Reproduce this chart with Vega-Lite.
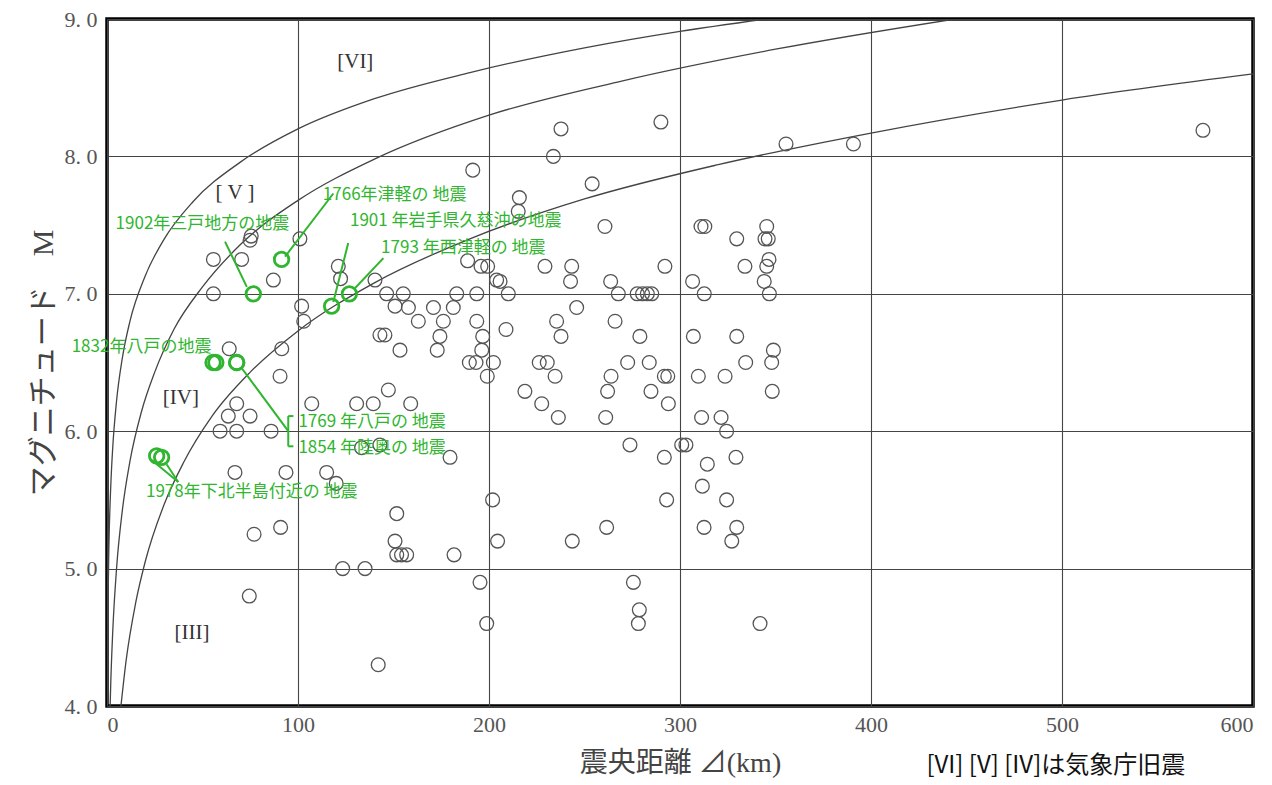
{
  "$schema": "https://vega.github.io/schema/vega-lite/v6.json",
  "width": 1146,
  "height": 687,
  "autosize": {"type": "none"},
  "padding": {"left": 107, "top": 19, "right": 19, "bottom": 79},
  "background": "white",
  "config": {
    "view": {"stroke": "#000", "strokeWidth": 3.5},
    "axis": {
      "grid": true, "gridColor": "#444", "gridWidth": 1.1, "gridOpacity": 1,
      "domain": false, "ticks": false,
      "labelFont": "Liberation Serif", "labelColor": "#555", "labelFontSize": 22,
      "titleFont": "Liberation Serif, Noto Sans CJK JP", "titleFontWeight": "normal",
      "titleColor": "#444", "titleFontSize": 28
    }
  },
  "datasets": {
    "curves": [
      {"c": "A", "d": 0.17, "m": 3.99}, {"c": "A", "d": 0.3, "m": 4.36}, {"c": "A", "d": 0.5, "m": 4.70},
      {"c": "A", "d": 1, "m": 5.16}, {"c": "A", "d": 2, "m": 5.61}, {"c": "A", "d": 3, "m": 5.88},
      {"c": "A", "d": 5, "m": 6.22}, {"c": "A", "d": 8, "m": 6.53}, {"c": "A", "d": 12, "m": 6.80},
      {"c": "A", "d": 20, "m": 7.13}, {"c": "A", "d": 30, "m": 7.40}, {"c": "A", "d": 45, "m": 7.67},
      {"c": "A", "d": 70, "m": 7.96}, {"c": "A", "d": 100, "m": 8.20}, {"c": "A", "d": 140, "m": 8.42},
      {"c": "A", "d": 190, "m": 8.61}, {"c": "A", "d": 250, "m": 8.79}, {"c": "A", "d": 300, "m": 8.91},
      {"c": "A", "d": 345, "m": 9.0},
      {"c": "B", "d": 1.64, "m": 4.0}, {"c": "B", "d": 2, "m": 4.18}, {"c": "B", "d": 3, "m": 4.54},
      {"c": "B", "d": 5, "m": 5.0}, {"c": "B", "d": 8, "m": 5.42}, {"c": "B", "d": 12, "m": 5.78},
      {"c": "B", "d": 18, "m": 6.14}, {"c": "B", "d": 25, "m": 6.43}, {"c": "B", "d": 35, "m": 6.74},
      {"c": "B", "d": 50, "m": 7.05}, {"c": "B", "d": 70, "m": 7.36}, {"c": "B", "d": 100, "m": 7.68},
      {"c": "B", "d": 140, "m": 7.98}, {"c": "B", "d": 200, "m": 8.30}, {"c": "B", "d": 270, "m": 8.55},
      {"c": "B", "d": 350, "m": 8.78}, {"c": "B", "d": 444, "m": 9.0},
      {"c": "C", "d": 7.3, "m": 4.0}, {"c": "C", "d": 10, "m": 4.33}, {"c": "C", "d": 15, "m": 4.75},
      {"c": "C", "d": 20, "m": 5.05}, {"c": "C", "d": 30, "m": 5.47}, {"c": "C", "d": 40, "m": 5.77},
      {"c": "C", "d": 55, "m": 6.11}, {"c": "C", "d": 75, "m": 6.43}, {"c": "C", "d": 100, "m": 6.73},
      {"c": "C", "d": 140, "m": 7.08}, {"c": "C", "d": 190, "m": 7.40}, {"c": "C", "d": 250, "m": 7.69},
      {"c": "C", "d": 320, "m": 7.94}, {"c": "C", "d": 400, "m": 8.17}, {"c": "C", "d": 500, "m": 8.41},
      {"c": "C", "d": 600, "m": 8.60}
    ],
    "quakes": [
      {"d": 237.7, "m": 8.20}, {"d": 290, "m": 8.25}, {"d": 233.7, "m": 8.00}, {"d": 355.5, "m": 8.09},
      {"d": 390.8, "m": 8.09}, {"d": 573.8, "m": 8.19}, {"d": 191.5, "m": 7.90}, {"d": 254, "m": 7.80},
      {"d": 215.9, "m": 7.70}, {"d": 215.3, "m": 7.60}, {"d": 260.7, "m": 7.49}, {"d": 311, "m": 7.49},
      {"d": 313, "m": 7.49}, {"d": 345.4, "m": 7.49}, {"d": 329.7, "m": 7.40}, {"d": 344.5, "m": 7.40},
      {"d": 346.2, "m": 7.40}, {"d": 346.6, "m": 7.25}, {"d": 345.4, "m": 7.20}, {"d": 334, "m": 7.20},
      {"d": 344.1, "m": 7.09}, {"d": 346.8, "m": 7.00}, {"d": 312.7, "m": 7.00}, {"d": 306.6, "m": 7.09},
      {"d": 292.1, "m": 7.20}, {"d": 263.7, "m": 7.09}, {"d": 267.7, "m": 7.00}, {"d": 277.6, "m": 7.00},
      {"d": 280.4, "m": 7.00}, {"d": 282.9, "m": 7.00}, {"d": 285.2, "m": 7.00}, {"d": 243.3, "m": 7.20},
      {"d": 242.7, "m": 7.09}, {"d": 229.3, "m": 7.20}, {"d": 245.9, "m": 6.90}, {"d": 266, "m": 6.80},
      {"d": 235.4, "m": 6.80}, {"d": 237.7, "m": 6.69}, {"d": 279, "m": 6.69}, {"d": 307, "m": 6.69},
      {"d": 329.7, "m": 6.69}, {"d": 208.9, "m": 6.74}, {"d": 188.8, "m": 7.24}, {"d": 195.8, "m": 7.20},
      {"d": 199.3, "m": 7.20}, {"d": 204, "m": 7.10}, {"d": 205.8, "m": 7.09}, {"d": 210.1, "m": 7.00},
      {"d": 193.6, "m": 7.00}, {"d": 183.1, "m": 7.00}, {"d": 155.1, "m": 7.00}, {"d": 170.9, "m": 6.90},
      {"d": 181.3, "m": 6.90}, {"d": 157.8, "m": 6.90}, {"d": 163, "m": 6.80}, {"d": 176.1, "m": 6.80},
      {"d": 193.6, "m": 6.80}, {"d": 174.3, "m": 6.69}, {"d": 196.7, "m": 6.69}, {"d": 153.4, "m": 6.59},
      {"d": 172.9, "m": 6.59}, {"d": 196.2, "m": 6.59}, {"d": 189.7, "m": 6.50}, {"d": 193.2, "m": 6.50},
      {"d": 202.3, "m": 6.50}, {"d": 199.1, "m": 6.40}, {"d": 226.3, "m": 6.50}, {"d": 230.5, "m": 6.50},
      {"d": 234.6, "m": 6.40}, {"d": 218.8, "m": 6.29}, {"d": 227.6, "m": 6.20}, {"d": 236.3, "m": 6.10},
      {"d": 261.1, "m": 6.10}, {"d": 262.1, "m": 6.29}, {"d": 263.9, "m": 6.40}, {"d": 272.6, "m": 6.50},
      {"d": 283.9, "m": 6.50}, {"d": 284.8, "m": 6.29}, {"d": 291.8, "m": 6.40}, {"d": 293.6, "m": 6.40},
      {"d": 293.9, "m": 6.20}, {"d": 309.6, "m": 6.40}, {"d": 323.6, "m": 6.40}, {"d": 334.4, "m": 6.50},
      {"d": 348, "m": 6.50}, {"d": 348.9, "m": 6.59}, {"d": 348.3, "m": 6.29}, {"d": 311.3, "m": 6.10},
      {"d": 321.5, "m": 6.10}, {"d": 324.4, "m": 6.00}, {"d": 300.9, "m": 5.90}, {"d": 303.1, "m": 5.90},
      {"d": 273.8, "m": 5.90}, {"d": 291.8, "m": 5.81}, {"d": 314.3, "m": 5.76}, {"d": 329.3, "m": 5.81},
      {"d": 311.7, "m": 5.60}, {"d": 324.4, "m": 5.50}, {"d": 293, "m": 5.50}, {"d": 201.9, "m": 5.50},
      {"d": 179.6, "m": 5.81}, {"d": 159, "m": 6.20}, {"d": 151.7, "m": 5.40}, {"d": 204.5, "m": 5.20},
      {"d": 243.6, "m": 5.20}, {"d": 261.6, "m": 5.30}, {"d": 312.6, "m": 5.30}, {"d": 329.7, "m": 5.30},
      {"d": 327.1, "m": 5.20}, {"d": 150.8, "m": 5.20}, {"d": 151.7, "m": 5.10}, {"d": 154.2, "m": 5.10},
      {"d": 156.9, "m": 5.10}, {"d": 181.7, "m": 5.10}, {"d": 195.3, "m": 4.90}, {"d": 275.6, "m": 4.90},
      {"d": 278.7, "m": 4.70}, {"d": 278.2, "m": 4.60}, {"d": 198.8, "m": 4.60}, {"d": 341.9, "m": 4.60},
      {"d": 77, "m": 5.25}, {"d": 90.9, "m": 5.30}, {"d": 123.4, "m": 5.00}, {"d": 135.1, "m": 5.00},
      {"d": 74.5, "m": 4.80}, {"d": 142, "m": 4.30}, {"d": 74.9, "m": 7.39}, {"d": 75.5, "m": 7.42},
      {"d": 101, "m": 7.40}, {"d": 55.7, "m": 7.25}, {"d": 70.5, "m": 7.25}, {"d": 87.1, "m": 7.10},
      {"d": 55.7, "m": 7.00}, {"d": 101.9, "m": 6.91}, {"d": 103, "m": 6.80}, {"d": 121.1, "m": 7.20},
      {"d": 122.3, "m": 7.11}, {"d": 140.3, "m": 7.10}, {"d": 146.4, "m": 7.00}, {"d": 150.8, "m": 6.91},
      {"d": 64, "m": 6.60}, {"d": 91.5, "m": 6.60}, {"d": 90.6, "m": 6.40}, {"d": 67.9, "m": 6.20},
      {"d": 63.5, "m": 6.11}, {"d": 74.9, "m": 6.11}, {"d": 59.2, "m": 6.00}, {"d": 67.9, "m": 6.00},
      {"d": 85.9, "m": 6.00}, {"d": 107.2, "m": 6.20}, {"d": 130.7, "m": 6.20}, {"d": 139.4, "m": 6.20},
      {"d": 147.3, "m": 6.30}, {"d": 142.9, "m": 6.70}, {"d": 145.5, "m": 6.70}, {"d": 133.3, "m": 5.88},
      {"d": 142.9, "m": 5.90}, {"d": 67, "m": 5.70}, {"d": 93.7, "m": 5.70}, {"d": 115, "m": 5.70},
      {"d": 120, "m": 5.62}
    ],
    "named": [
      {"name": "1902", "d": 76.6, "m": 7.0}, {"name": "1766", "d": 91.4, "m": 7.25},
      {"name": "1901", "d": 117.6, "m": 6.91}, {"name": "1793", "d": 126.9, "m": 7.0},
      {"name": "1832", "d": 55.5, "m": 6.5}, {"name": "1832b", "d": 57, "m": 6.5},
      {"name": "1769", "d": 67.9, "m": 6.5}, {"name": "1854", "d": 67.9, "m": 6.5},
      {"name": "1978", "d": 26, "m": 5.82}, {"name": "1978b", "d": 28.6, "m": 5.81}
    ],
    "leaders": [
      {"d": 61.8, "m": 7.38, "d2": 73.2, "m2": 7.05},
      {"d": 118.5, "m": 7.73, "d2": 93.2, "m2": 7.27},
      {"d": 126.3, "m": 7.37, "d2": 118.5, "m2": 6.94},
      {"d": 144.7, "m": 7.26, "d2": 129.8, "m2": 7.04},
      {"d": 70.5, "m": 6.46, "d2": 94.9, "m2": 6.0},
      {"d": 94.9, "m": 6.11, "d2": 94.9, "m2": 5.89},
      {"d": 94.9, "m": 6.11, "d2": 97.6, "m2": 6.11},
      {"d": 94.9, "m": 5.89, "d2": 97.6, "m2": 5.89},
      {"d": 23.4, "m": 5.79, "d2": 37.3, "m2": 5.63},
      {"d": 31.2, "m": 5.76, "d2": 37.3, "m2": 5.63}
    ],
    "labels": [
      {"t": "1902年三戸地方の地震", "d": 4.5, "m": 7.51},
      {"t": "1766年津軽の 地震", "d": 113, "m": 7.72},
      {"t": "1901 年岩手県久慈沖の地震", "d": 127.2, "m": 7.53},
      {"t": "1793 年西津軽の 地震", "d": 143.5, "m": 7.33},
      {"t": "1832年八戸の地震", "d": -18.5, "m": 6.61},
      {"t": "1769 年八戸の 地震", "d": 100.2, "m": 6.07},
      {"t": "1854 年陸奥の 地震", "d": 100.2, "m": 5.875},
      {"t": "1978年下北半島付近の 地震", "d": 20.4, "m": 5.56}
    ],
    "regions": [
      {"t": "[VI]", "d": 130, "m": 8.69},
      {"t": "[ V ]", "d": 67, "m": 7.73},
      {"t": "[IV]", "d": 38.7, "m": 6.24},
      {"t": "[III]", "d": 44.5, "m": 4.53}
    ],
    "note": [
      {"t": "[VI] [V] [IV]は気象庁旧震", "d": 429, "m": 3.65}
    ]
  },
  "layer": [
    {
      "data": {"name": "curves"},
      "mark": {"type": "line", "color": "#444", "strokeWidth": 1.3, "interpolate": "monotone", "clip": true},
      "encoding": {
        "x": {"field": "d", "type": "quantitative", "scale": {"domain": [0, 600], "nice": false},
          "axis": {"values": [0, 100, 200, 300, 400, 500, 600], "title": "震央距離 ⊿(km)", "labelPadding": 8, "titlePadding": 14}},
        "y": {"field": "m", "type": "quantitative", "scale": {"domain": [4, 9], "nice": false, "zero": false},
          "axis": {"values": [4, 5, 6, 7, 8, 9], "title": "マグニチュード　M", "titleFontSize": 30, "labelExpr": "replace(format(datum.value, '.1f'), '.', '. ')", "labelPadding": 10, "titlePadding": 6}},
        "detail": {"field": "c"}
      }
    },
    {
      "data": {"name": "quakes"},
      "mark": {"type": "point", "shape": "circle", "filled": false, "stroke": "#555", "strokeWidth": 1.3, "size": 190, "opacity": 1},
      "encoding": {
        "x": {"field": "d", "type": "quantitative"},
        "y": {"field": "m", "type": "quantitative"}
      }
    },
    {
      "data": {"name": "leaders"},
      "mark": {"type": "rule", "color": "#2fb52f", "strokeWidth": 2},
      "encoding": {
        "x": {"field": "d", "type": "quantitative"},
        "y": {"field": "m", "type": "quantitative"},
        "x2": {"field": "d2"},
        "y2": {"field": "m2"}
      }
    },
    {
      "data": {"name": "named"},
      "mark": {"type": "point", "shape": "circle", "filled": false, "stroke": "#2fb52f", "strokeWidth": 2.8, "size": 210, "opacity": 1},
      "encoding": {
        "x": {"field": "d", "type": "quantitative"},
        "y": {"field": "m", "type": "quantitative"}
      }
    },
    {
      "data": {"name": "labels"},
      "mark": {"type": "text", "align": "left", "baseline": "middle", "font": "Noto Sans CJK JP", "fontSize": 17, "color": "#2fb52f"},
      "encoding": {
        "x": {"field": "d", "type": "quantitative"},
        "y": {"field": "m", "type": "quantitative"},
        "text": {"field": "t"}
      }
    },
    {
      "data": {"name": "regions"},
      "mark": {"type": "text", "align": "center", "baseline": "middle", "font": "Liberation Serif", "fontSize": 21, "color": "#333"},
      "encoding": {
        "x": {"field": "d", "type": "quantitative"},
        "y": {"field": "m", "type": "quantitative"},
        "text": {"field": "t"}
      }
    },
    {
      "data": {"name": "note"},
      "mark": {"type": "text", "align": "left", "baseline": "top", "font": "Noto Sans CJK JP", "fontSize": 24, "color": "#111"},
      "encoding": {
        "x": {"field": "d", "type": "quantitative"},
        "y": {"field": "m", "type": "quantitative"},
        "text": {"field": "t"}
      }
    }
  ]
}
